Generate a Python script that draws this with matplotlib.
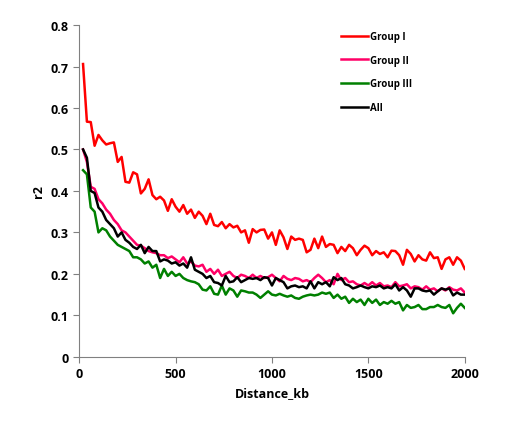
import numpy as np
import matplotlib.pyplot as plt

plt.rcParams['font.family'] = 'Open Sans'
plt.rcParams['font.weight'] = 'bold'

distance = np.arange(20, 2001, 20)

group1 = [0.706, 0.567, 0.566, 0.509, 0.535, 0.522, 0.512, 0.515, 0.517, 0.470,
          0.482, 0.422, 0.420, 0.445, 0.440, 0.394, 0.405, 0.428, 0.390, 0.380,
          0.386, 0.377, 0.352, 0.380, 0.362, 0.350, 0.366, 0.345, 0.355, 0.335,
          0.350, 0.340, 0.320, 0.345, 0.318, 0.315, 0.325, 0.310, 0.320, 0.312,
          0.316, 0.300, 0.305, 0.275, 0.308, 0.300, 0.306, 0.307, 0.285, 0.300,
          0.270, 0.305, 0.288, 0.260, 0.290, 0.282, 0.285, 0.282, 0.252, 0.258,
          0.285, 0.262, 0.290, 0.265, 0.272, 0.270, 0.250, 0.265, 0.255, 0.270,
          0.262, 0.245, 0.258, 0.268, 0.262, 0.245, 0.255, 0.248, 0.252, 0.240,
          0.256, 0.255, 0.245, 0.222, 0.258, 0.248, 0.230, 0.245, 0.235, 0.232,
          0.252, 0.238, 0.240, 0.212, 0.235, 0.240, 0.222, 0.240, 0.232, 0.212]

group2 = [0.500, 0.470, 0.410, 0.405, 0.380, 0.370, 0.355, 0.345, 0.330, 0.320,
          0.305, 0.300, 0.290, 0.280, 0.270, 0.268, 0.262, 0.255, 0.252, 0.250,
          0.245, 0.245, 0.238, 0.242, 0.235, 0.228, 0.240, 0.225, 0.230, 0.220,
          0.218, 0.222, 0.205, 0.212, 0.200, 0.210, 0.195, 0.200, 0.205, 0.195,
          0.190, 0.198, 0.195, 0.190, 0.198, 0.190, 0.195, 0.190, 0.192, 0.198,
          0.190, 0.182, 0.195, 0.188, 0.185, 0.190, 0.188, 0.182, 0.185, 0.180,
          0.190, 0.198, 0.190, 0.180, 0.185, 0.175, 0.200, 0.185, 0.190, 0.180,
          0.182, 0.175, 0.172, 0.178, 0.172, 0.180, 0.172, 0.178, 0.170, 0.172,
          0.168, 0.180, 0.170, 0.172, 0.175, 0.165, 0.170, 0.168, 0.162, 0.170,
          0.162, 0.165, 0.158, 0.165, 0.160, 0.168, 0.162, 0.160, 0.165, 0.155]

group3 = [0.450, 0.440, 0.360, 0.350, 0.300, 0.310, 0.305, 0.290, 0.280, 0.270,
          0.265, 0.260, 0.255, 0.240, 0.240, 0.235, 0.225, 0.230, 0.215, 0.222,
          0.190, 0.212, 0.195, 0.205, 0.195, 0.200, 0.190, 0.185, 0.182, 0.180,
          0.175, 0.162, 0.160, 0.170, 0.152, 0.150, 0.172, 0.150, 0.165, 0.160,
          0.145, 0.160, 0.158, 0.155, 0.155, 0.150, 0.142, 0.150, 0.158, 0.150,
          0.148, 0.152, 0.148, 0.145, 0.148, 0.142, 0.140, 0.145, 0.148, 0.150,
          0.148, 0.150, 0.155, 0.152, 0.155, 0.142, 0.150, 0.140, 0.145, 0.130,
          0.140, 0.132, 0.138, 0.125, 0.140, 0.130, 0.138, 0.125, 0.132, 0.128,
          0.135, 0.128, 0.132, 0.112, 0.125, 0.118, 0.120, 0.125, 0.115, 0.115,
          0.120, 0.120, 0.125, 0.120, 0.118, 0.125, 0.105, 0.118, 0.128, 0.118]

all_groups = [0.500, 0.480, 0.400, 0.395, 0.360, 0.350, 0.330, 0.320, 0.310, 0.290,
              0.300, 0.282, 0.275, 0.265, 0.260, 0.270, 0.250, 0.265, 0.255, 0.255,
              0.230, 0.235, 0.232, 0.225, 0.228, 0.220, 0.225, 0.215, 0.240, 0.210,
              0.205, 0.200, 0.190, 0.195, 0.180, 0.178, 0.172, 0.195, 0.180, 0.182,
              0.192, 0.180, 0.185, 0.190, 0.188, 0.190, 0.185, 0.192, 0.190, 0.172,
              0.190, 0.185, 0.180, 0.165, 0.170, 0.172, 0.168, 0.170, 0.165, 0.182,
              0.165, 0.180, 0.175, 0.180, 0.170, 0.192, 0.185, 0.190, 0.175, 0.172,
              0.165, 0.168, 0.172, 0.168, 0.165, 0.170, 0.168, 0.172, 0.165, 0.168,
              0.165, 0.175, 0.160, 0.168, 0.160, 0.145, 0.165, 0.165, 0.160, 0.158,
              0.160, 0.150, 0.158, 0.165, 0.162, 0.165, 0.148, 0.155, 0.150, 0.150]

fig = plt.figure(figsize=(5.21, 4.27), dpi=100)
ax = fig.add_axes([0.152, 0.162, 0.740, 0.777])

ax.plot(distance, group1, color='#ff0000', lw=1.8, label='Group I')
ax.plot(distance, group2, color='#ff0066', lw=1.8, label='Group II')
ax.plot(distance, group3, color='#008000', lw=1.8, label='Group III')
ax.plot(distance, all_groups, color='#000000', lw=1.8, label='All')

ax.set_xlim(0, 2000)
ax.set_ylim(0, 0.8)
ax.set_xticks([0, 500, 1000, 1500, 2000])
ax.set_yticks([0, 0.1, 0.2, 0.3, 0.4, 0.5, 0.6, 0.7, 0.8])
ax.set_yticklabels(['0', '0.1', '0.2', '0.3', '0.4', '0.5', '0.6', '0.7', '0.8'])
ax.tick_params(labelsize=9, direction='out', length=4, color='#808080')
for s in ['top', 'right']:
    ax.spines[s].set_visible(False)
for s in ['left', 'bottom']:
    ax.spines[s].set_color('#808080')

ax.set_xlabel('Distance_kb', fontsize=9, fontweight='bold')
ax.set_ylabel('r2', fontsize=9, fontweight='bold')

ax.legend(loc='upper left', bbox_to_anchor=(0.678, 0.982), frameon=False,
          borderpad=0, borderaxespad=0,
          fontsize=7, handlelength=2.8, handletextpad=0.2, labelspacing=1.3)

fig.savefig('out.png')
